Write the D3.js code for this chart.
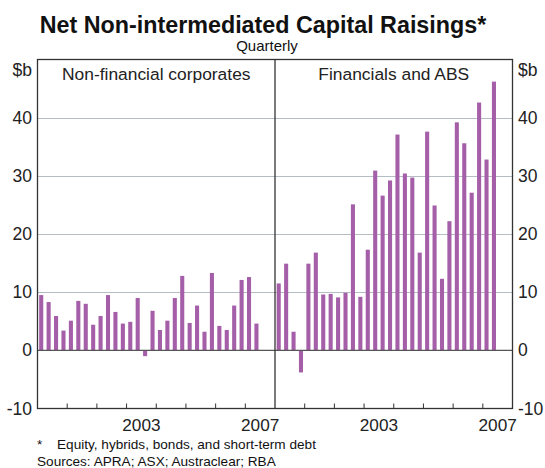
<!DOCTYPE html>
<html>
<head>
<meta charset="utf-8">
<script src="https://cdn.jsdelivr.net/npm/d3@7"></script>
<style>
  html, body { margin: 0; padding: 0; background: #fff; }
  svg { display: block; font-family: "Liberation Sans", Arial, sans-serif; }
</style>
</head>
<body>
<svg id="chart" width="545" height="468"></svg>
<script>
// ---- data ----
const years = [2000, 2001, 2002, 2003, 2004, 2005, 2006, 2007];
const quarterNames = ["Q1", "Q2", "Q3", "Q4"];
const quarters = years.flatMap(y => quarterNames.map(q => y + q)); // 32 quarter slots
const nonFinancial = [9.5, 8.3, 5.9, 3.4, 5.1, 8.5, 8.0, 4.4, 5.9, 9.5, 6.6, 4.6, 4.9, 9.0, -1.0,
                      6.8, 3.5, 5.1, 9.0, 12.8, 4.7, 7.7, 3.2, 13.3, 4.2, 3.5, 7.7, 12.1, 12.6, 4.6];
const financials = [11.5, 14.9, 3.2, -3.8, 14.9, 16.8, 9.6, 9.7, 9.1, 9.9, 25.1, 9.2, 17.3, 30.9, 26.6,
                    29.2, 37.1, 30.4, 29.7, 16.8, 37.6, 24.9, 12.3, 22.2, 39.2, 35.6, 27.1, 42.6, 32.8, 46.2];
const yTicks = [-10, 0, 10, 20, 30, 40];
const xLabelYears = [2003, 2007];
const panelTitles = ["Non-financial corporates", "Financials and ABS"];
const title = "Net Non-intermediated Capital Raisings*";
const subtitle = "Quarterly";
const unit = "$b";
const footnotes = ["Equity, hybrids, bonds, and short-term debt", "Sources: APRA; ASX; Austraclear; RBA"];

// ---- layout ----
const svg = d3.select("#chart");
const L = 37.5, R = 512.5, T = 59.5, B = 408.5, M = 275;
const barColor = "#a55fa8";

const y = d3.scaleLinear().domain([-10, 50]).range([B, T]);

// gridlines
svg.append("g").selectAll("line")
  .data(yTicks.filter(d => d > 0))
  .join("line")
  .attr("x1", L).attr("x2", R)
  .attr("y1", d => Math.round(y(d)) + 0.5).attr("y2", d => Math.round(y(d)) + 0.5)
  .attr("stroke", "#b4bcc4").attr("stroke-width", 1);

const panels = [
  { x0: L, x1: M, data: nonFinancial, title: panelTitles[0] },
  { x0: M, x1: R, data: financials, title: panelTitles[1] }
];

panels.forEach(p => {
  const x = d3.scaleBand().domain(quarters).range([p.x0, p.x1]).paddingInner(0.45).paddingOuter(0.225);
  const g = svg.append("g");
  g.selectAll("rect")
    .data(p.data)
    .join("rect")
    .attr("x", (d, i) => x(quarters[i]))
    .attr("width", x.bandwidth())
    .attr("y", d => y(Math.max(0, d)))
    .attr("height", d => Math.abs(y(d) - y(0)))
    .attr("fill", barColor);

  // year ticks (year boundaries)
  const xy = d3.scaleLinear().domain([years[0], years[years.length - 1] + 1]).range([p.x0, p.x1]);
  const tickYears = years.slice(1);
  g.append("g").selectAll("line")
    .data(tickYears)
    .join("line")
    .attr("x1", d => xy(d)).attr("x2", d => xy(d))
    .attr("y1", B).attr("y2", B - 5)
    .attr("stroke", "#333").attr("stroke-width", 1);

  g.append("g").selectAll("text")
    .data(xLabelYears)
    .join("text")
    .attr("x", d => xy(d + 0.5))
    .attr("y", 431)
    .attr("text-anchor", "middle")
    .attr("font-size", 17.2)
    .attr("fill", "#222")
    .text(d => d);

  g.append("text")
    .attr("x", (p.x0 + p.x1) / 2)
    .attr("y", 79.5)
    .attr("text-anchor", "middle")
    .attr("font-size", 17.4)
    .attr("fill", "#222")
    .text(p.title);
});

// zero line
svg.append("line")
  .attr("x1", L).attr("x2", R)
  .attr("y1", y(0)).attr("y2", y(0))
  .attr("stroke", "#555").attr("stroke-width", 1.2);

// frame & divider
svg.append("rect")
  .attr("x", L).attr("y", T).attr("width", R - L).attr("height", B - T)
  .attr("fill", "none").attr("stroke", "#333").attr("stroke-width", 1.3);
svg.append("line")
  .attr("x1", M).attr("x2", M).attr("y1", T).attr("y2", B)
  .attr("stroke", "#333").attr("stroke-width", 1.3);

// y labels both sides
const yl = svg.append("g").attr("font-size", 17.5).attr("fill", "#222");
yl.selectAll("text.l").data(yTicks).join("text").attr("class", "l")
  .attr("x", 32).attr("y", d => y(d)).attr("dy", "0.35em")
  .attr("text-anchor", "end").text(d => d);
yl.selectAll("text.r").data(yTicks).join("text").attr("class", "r")
  .attr("x", 518).attr("y", d => y(d)).attr("dy", "0.35em")
  .attr("text-anchor", "start").text(d => d);
yl.append("text").attr("x", 32).attr("y", 70).attr("dy", "0.35em").attr("text-anchor", "end").text(unit);
yl.append("text").attr("x", 518).attr("y", 70).attr("dy", "0.35em").attr("text-anchor", "start").text(unit);

// titles
svg.append("text").attr("x", 263).attr("y", 32.5).attr("text-anchor", "middle")
  .attr("font-size", 23.3).attr("font-weight", "bold").attr("fill", "#111").text(title);
svg.append("text").attr("x", 267).attr("y", 51).attr("text-anchor", "middle")
  .attr("font-size", 15).attr("fill", "#111").text(subtitle);

// footnotes
const fn = svg.append("g").attr("font-size", 13.6).attr("fill", "#111");
fn.append("text").attr("x", 37).attr("y", 449).text("*");
fn.append("text").attr("x", 57).attr("y", 449).text(footnotes[0]);
fn.append("text").attr("x", 37).attr("y", 466).text(footnotes[1]);
</script>
</body>
</html>
